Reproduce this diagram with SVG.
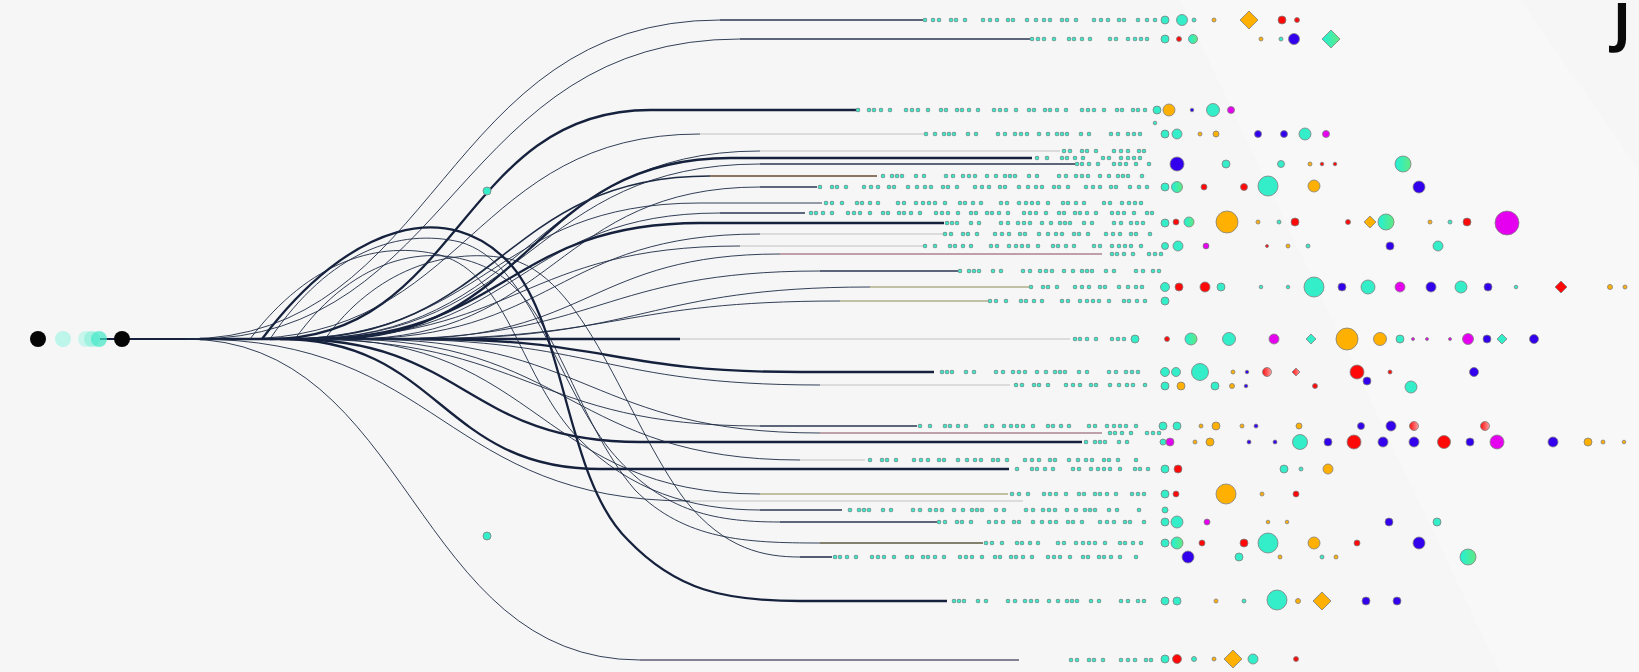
<svg xmlns="http://www.w3.org/2000/svg" width="1639" height="672" viewBox="0 0 1639 672">
<style>
.cv{fill:none;stroke:#1d2a44;stroke-width:0.9}
.tk{fill:none;stroke:#16223d;stroke-width:2.3}
.lg{fill:none;stroke:#dcdcdc;stroke-width:2}
.ln{fill:none;stroke:#2a3550;stroke-width:1.6}
.tb{stroke:#7d8c8a;stroke-width:4.6;stroke-linecap:round;fill:none}
.tt{stroke:#3fe8c8;stroke-width:3.2;stroke-linecap:round;fill:none}
.p1{stroke-dasharray:0 8 0 6 0 12 0 5 0 9 0 18 0 7 0 7 0 11 0 5 0 14 0 9}
.p2{stroke-dasharray:0 6 0 6 0 10 0 15 0 5 0 8 0 8 0 20 0 6 0 12 0 7}
.p3{stroke-dasharray:0 11 0 5 0 7 0 9 0 16 0 6 0 6 0 10 0 13 0 5}
.p4{stroke-dasharray:0 9 0 9 0 5 0 5 0 14 0 8 0 22 0 7 0 10 0 6 0 6 0 12}
.d circle,.d polygon{stroke:#808080;stroke-width:0.8}
.tq{fill:#33eec8}.or{fill:#ffb000}.rd{fill:#ff0808}.bl{fill:#3300ee}.mg{fill:#e600f0}.gt{fill:url(#gt)}.gr{fill:url(#gr)}
</style>
<defs>
<linearGradient id="gt" x1="0" y1="0" x2="1" y2="0"><stop offset="0" stop-color="#22f0d8"/><stop offset="1" stop-color="#60ea80"/></linearGradient>
<linearGradient id="gr" x1="0" y1="0" x2="1" y2="0"><stop offset="0" stop-color="#ff1010"/><stop offset="1" stop-color="#ffa0a0"/></linearGradient>
</defs>
<rect width="1639" height="672" fill="#f6f6f6"/>
<polygon points="1180,0 1520,0 1639,170 1639,672 1500,672" fill="#f8f8f8"/>

<g id="start-nodes">
<line x1="100" y1="339" x2="200" y2="339" stroke="#16223d" stroke-width="2"/>
<circle cx="38" cy="339" r="8" fill="#050505"/>
<circle cx="63" cy="339" r="8" fill="#bdf5ea"/>
<circle cx="86" cy="339" r="8" fill="#bdf5ea" opacity="0.8"/>
<circle cx="92" cy="339" r="8" fill="#90f0dc" opacity="0.7"/>
<circle cx="99" cy="339" r="8" fill="#40e8c8" opacity="0.7"/>
<circle cx="122" cy="339" r="8" fill="#050505"/>
</g>

<g id="connectors">
<path class="cv" d="M185 339C440 339 440 20 720 20"/>
<path class="ln" d="M720 20H925"/>
<path class="cv" d="M195 339C455 339 455 39 740 39"/>
<path class="ln" d="M740 39H1032"/>
<path class="tk" d="M270 339C460 339 460 110 650 110H858"/>
<path class="cv" d="M240 339C470 339 470 134 700 134"/>
<path class="lg" d="M700 134H926"/>
<path class="cv" d="M300 339C530 339 530 151 760 151"/>
<path class="lg" d="M760 151H1060"/>
<path class="tk" d="M330 339C530 339 530 158 730 158H1032"/>
<path class="cv" d="M300 339C530 339 530 164 760 164"/>
<path class="ln" d="M760 164H1075"/>
<path class="cv" d="M290 339C500 339 500 176 710 176" style="stroke-width:1.6"/>
<path class="ln" d="M710 176H877" style="stroke:#6a4a30"/>
<path class="cv" d="M350 339C555 339 555 187 760 187"/>
<path class="ln" d="M760 187H817"/>
<path class="cv" d="M280 339C490 339 490 203 700 203H822"/>
<path class="cv" d="M320 339C520 339 520 213 720 213"/>
<path class="ln" d="M720 213H805"/>
<path class="tk" d="M310 339C505 339 505 223 700 223H944"/>
<path class="cv" d="M350 339C555 339 555 234 760 234"/>
<path class="lg" d="M760 234H943"/>
<path class="cv" d="M300 339C520 339 520 246 740 246"/>
<path class="lg" d="M740 246H925"/>
<path class="cv" d="M400 339C590 339 590 254 780 254"/>
<path class="ln" d="M780 254H1102" style="stroke:#8a4a5a;stroke-width:1.2"/>
<path class="cv" d="M380 339C600 339 600 271 820 271"/>
<path class="ln" d="M820 271H959"/>
<path class="cv" d="M420 339C645 339 645 287 870 287"/>
<path class="ln" d="M870 287H1030" style="stroke:#8a8a50;stroke-width:1.2"/>
<path class="cv" d="M400 339C620 339 620 301 840 301"/>
<path class="ln" d="M840 301H988" style="stroke:#8a8a50;stroke-width:1.2"/>
<path class="tk" d="M200 339H680"/>
<path class="lg" d="M680 339H1070"/>
<path class="tk" d="M420 339C610 339 610 372 800 372H934"/>
<path class="cv" d="M380 339C600 339 600 385 820 385"/>
<path class="lg" d="M820 385H1010"/>
<path class="cv" d="M300 339C530 339 530 426 760 426"/>
<path class="ln" d="M760 426H917"/>
<path class="cv" d="M360 339C590 339 590 433 820 433"/>
<path class="ln" d="M820 433H1102" style="stroke:#8a4a5a;stroke-width:1.2"/>
<path class="tk" d="M290 339C465 339 465 442 640 442H1082"/>
<path class="cv" d="M340 339C570 339 570 460 800 460"/>
<path class="lg" d="M800 460H865"/>
<path class="tk" d="M280 339C440 339 440 469 600 469H1009"/>
<path class="cv" d="M320 339C540 339 540 494 760 494"/>
<path class="ln" d="M760 494H1008" style="stroke:#8a8a50;stroke-width:1.2"/>
<path class="cv" d="M195 339C442 339 442 501 690 501"/>
<path class="lg" d="M690 501H1023"/>
<path class="cv" d="M250 339C310 260 380 240 440 255C510 275 520 380 580 440C630 490 690 510 760 510"/>
<path class="ln" d="M760 510H842"/>
<path class="cv" d="M270 339C330 250 400 228 460 242C530 262 555 380 610 450C660 510 710 522 780 522"/>
<path class="ln" d="M780 522H938"/>
<path class="cv" d="M295 339C355 255 435 238 495 272C555 307 575 420 635 490C685 540 745 543 820 543"/>
<path class="ln" d="M820 543H983" style="stroke:#5a5a40"/>
<path class="cv" d="M325 339C375 270 445 248 505 258C585 272 625 420 685 500C725 550 765 557 800 557"/>
<path class="ln" d="M800 557H832"/>
<path class="tk" d="M262 339C350 222 450 196 512 266C566 330 566 480 628 540C676 590 724 601 800 601H947"/>
<path class="cv" d="M185 339C412 339 412 660 640 660"/>
<path class="ln" d="M640 660H1019" style="stroke:#5a5a70"/>
</g>

<g id="trails">
<g class="p1"><line class="tb" x1="925" y1="20" x2="1157" y2="20"/><line class="tt" x1="925" y1="20" x2="1157" y2="20"/></g>
<g class="p2"><line class="tb" x1="1032" y1="39" x2="1157" y2="39"/><line class="tt" x1="1032" y1="39" x2="1157" y2="39"/></g>
<g class="p3"><line class="tb" x1="858" y1="110" x2="1150" y2="110"/><line class="tt" x1="858" y1="110" x2="1150" y2="110"/></g>
<g class="p4"><line class="tb" x1="926" y1="134" x2="1148" y2="134"/><line class="tt" x1="926" y1="134" x2="1148" y2="134"/></g>
<g class="p1" style="stroke-dashoffset:4"><line class="tb" x1="1060" y1="151" x2="1145" y2="151"/><line class="tt" x1="1060" y1="151" x2="1145" y2="151"/></g>
<g class="p2" style="stroke-dashoffset:7"><line class="tb" x1="1032" y1="158" x2="1145" y2="158"/><line class="tt" x1="1032" y1="158" x2="1145" y2="158"/></g>
<g class="p3" style="stroke-dashoffset:9"><line class="tb" x1="1075" y1="164" x2="1150" y2="164"/><line class="tt" x1="1075" y1="164" x2="1150" y2="164"/></g>
<g class="p4" style="stroke-dashoffset:3"><line class="tb" x1="877" y1="176" x2="1148" y2="176"/><line class="tt" x1="877" y1="176" x2="1148" y2="176"/></g>
<g class="p1" style="stroke-dashoffset:11"><line class="tb" x1="817" y1="187" x2="1150" y2="187"/><line class="tt" x1="817" y1="187" x2="1150" y2="187"/></g>
<g class="p2" style="stroke-dashoffset:2"><line class="tb" x1="822" y1="203" x2="1148" y2="203"/><line class="tt" x1="822" y1="203" x2="1148" y2="203"/></g>
<g class="p3" style="stroke-dashoffset:5"><line class="tb" x1="805" y1="213" x2="1158" y2="213"/><line class="tt" x1="805" y1="213" x2="1158" y2="213"/></g>
<g class="p4" style="stroke-dashoffset:15"><line class="tb" x1="944" y1="223" x2="1148" y2="223"/><line class="tt" x1="944" y1="223" x2="1148" y2="223"/></g>
<g class="p1" style="stroke-dashoffset:6"><line class="tb" x1="943" y1="234" x2="1156" y2="234"/><line class="tt" x1="943" y1="234" x2="1156" y2="234"/></g>
<g class="p2" style="stroke-dashoffset:12"><line class="tb" x1="925" y1="246" x2="1150" y2="246"/><line class="tt" x1="925" y1="246" x2="1150" y2="246"/></g>
<g class="p3" style="stroke-dashoffset:1"><line class="tb" x1="1102" y1="254" x2="1165" y2="254"/><line class="tt" x1="1102" y1="254" x2="1165" y2="254"/></g>
<g class="p4" style="stroke-dashoffset:8"><line class="tb" x1="959" y1="271" x2="1165" y2="271"/><line class="tt" x1="959" y1="271" x2="1165" y2="271"/></g>
<g class="p1" style="stroke-dashoffset:13"><line class="tb" x1="1030" y1="287" x2="1150" y2="287"/><line class="tt" x1="1030" y1="287" x2="1150" y2="287"/></g>
<g class="p2" style="stroke-dashoffset:4"><line class="tb" x1="988" y1="301" x2="1150" y2="301"/><line class="tt" x1="988" y1="301" x2="1150" y2="301"/></g>
<g class="p3" style="stroke-dashoffset:6"><line class="tb" x1="1070" y1="339" x2="1130" y2="339"/><line class="tt" x1="1070" y1="339" x2="1130" y2="339"/></g>
<g class="p4" style="stroke-dashoffset:10"><line class="tb" x1="934" y1="372" x2="1150" y2="372"/><line class="tt" x1="934" y1="372" x2="1150" y2="372"/></g>
<g class="p1" style="stroke-dashoffset:2"><line class="tb" x1="1010" y1="385" x2="1150" y2="385"/><line class="tt" x1="1010" y1="385" x2="1150" y2="385"/></g>
<g class="p2" style="stroke-dashoffset:9"><line class="tb" x1="917" y1="426" x2="1150" y2="426"/><line class="tt" x1="917" y1="426" x2="1150" y2="426"/></g>
<g class="p3" style="stroke-dashoffset:3"><line class="tb" x1="1102" y1="433" x2="1160" y2="433"/><line class="tt" x1="1102" y1="433" x2="1160" y2="433"/></g>
<g class="p4" style="stroke-dashoffset:5"><line class="tb" x1="1082" y1="442" x2="1140" y2="442"/><line class="tt" x1="1082" y1="442" x2="1140" y2="442"/></g>
<g class="p1" style="stroke-dashoffset:9"><line class="tb" x1="865" y1="460" x2="1142" y2="460"/><line class="tt" x1="865" y1="460" x2="1142" y2="460"/></g>
<g class="p2" style="stroke-dashoffset:14"><line class="tb" x1="1009" y1="469" x2="1150" y2="469"/><line class="tt" x1="1009" y1="469" x2="1150" y2="469"/></g>
<g class="p3" style="stroke-dashoffset:12"><line class="tb" x1="1008" y1="494" x2="1148" y2="494"/><line class="tt" x1="1008" y1="494" x2="1148" y2="494"/></g>
<g class="p4" style="stroke-dashoffset:1"><line class="tb" x1="842" y1="510" x2="1145" y2="510"/><line class="tt" x1="842" y1="510" x2="1145" y2="510"/></g>
<g class="p1" style="stroke-dashoffset:7"><line class="tb" x1="938" y1="522" x2="1150" y2="522"/><line class="tt" x1="938" y1="522" x2="1150" y2="522"/></g>
<g class="p2" style="stroke-dashoffset:3"><line class="tb" x1="983" y1="543" x2="1150" y2="543"/><line class="tt" x1="983" y1="543" x2="1150" y2="543"/></g>
<g class="p3" style="stroke-dashoffset:8"><line class="tb" x1="832" y1="557" x2="1140" y2="557"/><line class="tt" x1="832" y1="557" x2="1140" y2="557"/></g>
<g class="p4" style="stroke-dashoffset:11"><line class="tb" x1="947" y1="601" x2="1145" y2="601"/><line class="tt" x1="947" y1="601" x2="1145" y2="601"/></g>
<g class="p1" style="stroke-dashoffset:5"><line class="tb" x1="1068" y1="660" x2="1158" y2="660"/><line class="tt" x1="1068" y1="660" x2="1158" y2="660"/></g>
</g>

<g id="dots" class="d">
<circle cx="487" cy="191" r="4" class="tq"/>
<circle cx="487" cy="536" r="4" class="tq"/>
<!-- row 20 -->
<circle cx="1165" cy="20" r="4" class="tq"/><circle cx="1182" cy="20" r="5.5" class="tq"/><circle cx="1194" cy="20" r="2" class="tq"/><circle cx="1214" cy="20" r="2" class="or"/>
<polygon points="1249,11 1258,20 1249,29 1240,20" class="or"/><circle cx="1282" cy="20" r="4" class="rd"/><circle cx="1297" cy="20" r="2.5" class="rd"/>
<!-- row 39 -->
<circle cx="1165" cy="39" r="4" class="tq"/><circle cx="1179" cy="39" r="2.5" class="rd"/><circle cx="1193" cy="39" r="4.5" class="gt"/><circle cx="1261" cy="39" r="2" class="or"/><circle cx="1281" cy="39" r="2" class="tq"/><circle cx="1294" cy="39" r="5.5" class="bl"/>
<polygon points="1331,30 1340,39 1331,48 1322,39" class="gt"/>
<!-- row 110 -->
<circle cx="1157" cy="110" r="4" class="tq"/><circle cx="1169" cy="110" r="6" class="or"/><circle cx="1155" cy="123" r="1.8" class="tq"/><circle cx="1192" cy="110" r="1.8" class="bl"/><circle cx="1213" cy="110" r="6.5" class="tq"/><circle cx="1231" cy="110" r="3.5" class="mg"/>
<!-- row 134 -->
<circle cx="1165" cy="134" r="4" class="tq"/><circle cx="1177" cy="134" r="5" class="tq"/><circle cx="1200" cy="134" r="2" class="or"/><circle cx="1216" cy="134" r="3" class="or"/><circle cx="1258" cy="134" r="3.5" class="bl"/><circle cx="1284" cy="134" r="3.5" class="bl"/><circle cx="1305" cy="134" r="6" class="tq"/><circle cx="1326" cy="134" r="3.5" class="mg"/>
<!-- row 164 -->
<circle cx="1177" cy="164" r="7" class="bl"/><circle cx="1226" cy="164" r="4" class="tq"/><circle cx="1281" cy="164" r="3.5" class="tq"/><circle cx="1310" cy="164" r="2" class="or"/><circle cx="1322" cy="164" r="1.8" class="rd"/><circle cx="1335" cy="164" r="1.8" class="rd"/><circle cx="1403" cy="164" r="8" class="gt"/>
<!-- row 187 -->
<circle cx="1165" cy="187" r="4" class="tq"/><circle cx="1177" cy="187" r="5.5" class="gt"/><circle cx="1204" cy="187" r="3" class="rd"/><circle cx="1244" cy="187" r="3.5" class="rd"/><circle cx="1268" cy="186" r="10" class="tq"/><circle cx="1314" cy="186" r="6" class="or"/><circle cx="1419" cy="187" r="6" class="bl"/>
<!-- row 222 -->
<circle cx="1165" cy="223" r="4" class="tq"/><circle cx="1176" cy="222" r="3" class="rd"/><circle cx="1189" cy="222" r="5" class="gt"/><circle cx="1227" cy="222" r="11" class="or"/><circle cx="1258" cy="222" r="2" class="or"/><circle cx="1279" cy="222" r="2" class="tq"/><circle cx="1295" cy="222" r="4" class="rd"/><circle cx="1348" cy="222" r="2.5" class="rd"/>
<polygon points="1370,216 1376,222 1370,228 1364,222" class="or"/><circle cx="1386" cy="222" r="8" class="gt"/><circle cx="1430" cy="222" r="2" class="or"/><circle cx="1450" cy="222" r="2" class="tq"/><circle cx="1467" cy="222" r="4" class="rd"/><circle cx="1507" cy="223" r="12" class="mg"/>
<!-- row 246 -->
<circle cx="1165" cy="246" r="3.5" class="tq"/><circle cx="1178" cy="246" r="5" class="tq"/><circle cx="1206" cy="246" r="3" class="mg"/><circle cx="1267" cy="246" r="1.5" class="rd"/><circle cx="1288" cy="246" r="2" class="or"/><circle cx="1308" cy="246" r="2" class="tq"/><circle cx="1390" cy="246" r="4" class="bl"/><circle cx="1438" cy="246" r="5" class="tq"/>
<!-- row 287 -->
<circle cx="1165" cy="287" r="4.5" class="tq"/><circle cx="1179" cy="287" r="4" class="rd"/><circle cx="1205" cy="287" r="5" class="rd"/><circle cx="1221" cy="287" r="4" class="tq"/><circle cx="1261" cy="287" r="1.8" class="tq"/><circle cx="1288" cy="287" r="1.8" class="tq"/><circle cx="1314" cy="287" r="10" class="tq"/><circle cx="1342" cy="287" r="4" class="bl"/><circle cx="1368" cy="287" r="7" class="tq"/><circle cx="1400" cy="287" r="5" class="mg"/><circle cx="1431" cy="287" r="5" class="bl"/><circle cx="1461" cy="287" r="6" class="tq"/><circle cx="1488" cy="287" r="4" class="bl"/><circle cx="1516" cy="287" r="1.8" class="tq"/>
<polygon points="1561,281 1567,287 1561,293 1555,287" class="rd"/><circle cx="1610" cy="287" r="2.5" class="or"/><circle cx="1625" cy="287" r="2" class="or"/>
<circle cx="1165" cy="301" r="4" class="tq"/>
<!-- row 339 -->
<circle cx="1135" cy="339" r="4" class="tq"/><circle cx="1167" cy="339" r="2.5" class="rd"/><circle cx="1191" cy="339" r="6" class="gt"/><circle cx="1229" cy="339" r="6.5" class="tq"/><circle cx="1274" cy="339" r="5" class="mg"/>
<polygon points="1311,334 1316,339 1311,344 1306,339" class="tq"/><circle cx="1347" cy="339" r="11" class="or"/><circle cx="1380" cy="339" r="6.5" class="or"/><circle cx="1400" cy="339" r="4" class="tq"/><circle cx="1413" cy="339" r="1.5" class="mg"/><circle cx="1427" cy="339" r="1.5" class="mg"/><circle cx="1450" cy="339" r="1.5" class="mg"/><circle cx="1468" cy="339" r="5.5" class="mg"/><circle cx="1487" cy="339" r="4" class="bl"/>
<polygon points="1502,334 1507,339 1502,344 1497,339" class="tq"/><circle cx="1534" cy="339" r="4.5" class="bl"/>
<!-- row 372 -->
<circle cx="1165" cy="372" r="4.5" class="tq"/><circle cx="1176" cy="372" r="4.5" class="tq"/><circle cx="1200" cy="372" r="8.5" class="tq"/><circle cx="1233" cy="372" r="2" class="or"/><circle cx="1247" cy="372" r="1.8" class="bl"/><circle cx="1267" cy="372" r="4.5" class="gr"/>
<polygon points="1296,368 1300,372 1296,376 1292,372" class="gr"/><circle cx="1357" cy="372" r="7" class="rd"/><circle cx="1390" cy="372" r="2" class="rd"/><circle cx="1474" cy="372" r="4.5" class="bl"/>
<!-- row 385 -->
<circle cx="1165" cy="386" r="4" class="tq"/><circle cx="1181" cy="386" r="4" class="or"/><circle cx="1215" cy="386" r="4" class="tq"/><circle cx="1232" cy="386" r="2.5" class="or"/><circle cx="1246" cy="386" r="1.8" class="bl"/><circle cx="1315" cy="386" r="2.5" class="rd"/><circle cx="1367" cy="381" r="4" class="bl"/><circle cx="1411" cy="387" r="6" class="tq"/>
<!-- row 426 -->
<circle cx="1163" cy="426" r="4" class="tq"/><circle cx="1177" cy="426" r="4" class="tq"/><circle cx="1201" cy="426" r="2" class="or"/><circle cx="1216" cy="426" r="4" class="or"/><circle cx="1242" cy="426" r="2" class="or"/><circle cx="1256" cy="426" r="2" class="bl"/><circle cx="1299" cy="426" r="3" class="or"/><circle cx="1361" cy="426" r="3.5" class="bl"/><circle cx="1391" cy="426" r="5" class="bl"/><circle cx="1414" cy="426" r="4.5" class="gr"/><circle cx="1485" cy="426" r="4.5" class="gr"/>
<!-- row 442 -->
<circle cx="1163" cy="442" r="3" class="tq"/><circle cx="1170" cy="442" r="4" class="mg"/><circle cx="1195" cy="442" r="2" class="or"/><circle cx="1210" cy="442" r="4" class="or"/><circle cx="1249" cy="442" r="2" class="bl"/><circle cx="1275" cy="442" r="2" class="bl"/><circle cx="1300" cy="442" r="7.5" class="tq"/><circle cx="1328" cy="442" r="4" class="bl"/><circle cx="1354" cy="442" r="7" class="rd"/><circle cx="1383" cy="442" r="5" class="bl"/><circle cx="1414" cy="442" r="5" class="bl"/><circle cx="1444" cy="442" r="6.5" class="rd"/><circle cx="1470" cy="442" r="4" class="bl"/><circle cx="1497" cy="442" r="7" class="mg"/><circle cx="1553" cy="442" r="5" class="bl"/><circle cx="1588" cy="442" r="4" class="or"/><circle cx="1603" cy="442" r="2" class="or"/><circle cx="1624" cy="442" r="1.8" class="or"/>
<!-- row 469 -->
<circle cx="1165" cy="469" r="4" class="tq"/><circle cx="1178" cy="469" r="4" class="rd"/><circle cx="1284" cy="469" r="4" class="tq"/><circle cx="1301" cy="469" r="2" class="tq"/><circle cx="1328" cy="469" r="5" class="or"/>
<!-- row 494 -->
<circle cx="1165" cy="494" r="4" class="tq"/><circle cx="1176" cy="494" r="3" class="rd"/><circle cx="1226" cy="494" r="10" class="or"/><circle cx="1262" cy="494" r="2" class="or"/><circle cx="1296" cy="494" r="3" class="rd"/>
<circle cx="1165" cy="510" r="3" class="tq"/>
<!-- row 522 -->
<circle cx="1165" cy="522" r="4" class="tq"/><circle cx="1177" cy="522" r="6" class="tq"/><circle cx="1207" cy="522" r="3" class="mg"/><circle cx="1268" cy="522" r="1.8" class="or"/><circle cx="1287" cy="522" r="1.8" class="or"/><circle cx="1389" cy="522" r="4" class="bl"/><circle cx="1437" cy="522" r="4" class="tq"/>
<!-- row 543 -->
<circle cx="1165" cy="543" r="4" class="tq"/><circle cx="1177" cy="543" r="6" class="gt"/><circle cx="1202" cy="543" r="3" class="rd"/><circle cx="1244" cy="543" r="4" class="rd"/><circle cx="1268" cy="543" r="10" class="tq"/><circle cx="1314" cy="543" r="6" class="or"/><circle cx="1357" cy="543" r="3" class="rd"/><circle cx="1419" cy="543" r="6" class="bl"/>
<!-- row 557 -->
<circle cx="1188" cy="557" r="6" class="bl"/><circle cx="1239" cy="557" r="4" class="tq"/><circle cx="1280" cy="557" r="2" class="or"/><circle cx="1322" cy="557" r="2" class="tq"/><circle cx="1336" cy="557" r="2" class="or"/><circle cx="1468" cy="557" r="8" class="gt"/>
<!-- row 601 -->
<circle cx="1165" cy="601" r="4" class="tq"/><circle cx="1177" cy="601" r="4" class="tq"/><circle cx="1216" cy="601" r="2" class="or"/><circle cx="1244" cy="601" r="2" class="tq"/><circle cx="1277" cy="600" r="10" class="tq"/><circle cx="1298" cy="601" r="2.5" class="or"/>
<polygon points="1322,592 1331,601 1322,610 1313,601" class="or"/><circle cx="1366" cy="601" r="4" class="bl"/><circle cx="1397" cy="601" r="4" class="bl"/>
<!-- row 660 -->
<circle cx="1165" cy="659" r="4" class="tq"/><circle cx="1177" cy="659" r="4.5" class="rd"/><circle cx="1194" cy="659" r="2.5" class="tq"/><circle cx="1214" cy="659" r="2" class="or"/>
<polygon points="1233,650 1242,659 1233,668 1224,659" class="or"/><circle cx="1253" cy="659" r="5" class="tq"/><circle cx="1296" cy="659" r="2.5" class="rd"/>
</g>

<text x="1613" y="42" font-family="Open Sans, Liberation Sans, sans-serif" font-weight="bold" font-size="54" fill="#0a0a0a">J</text>
</svg>
